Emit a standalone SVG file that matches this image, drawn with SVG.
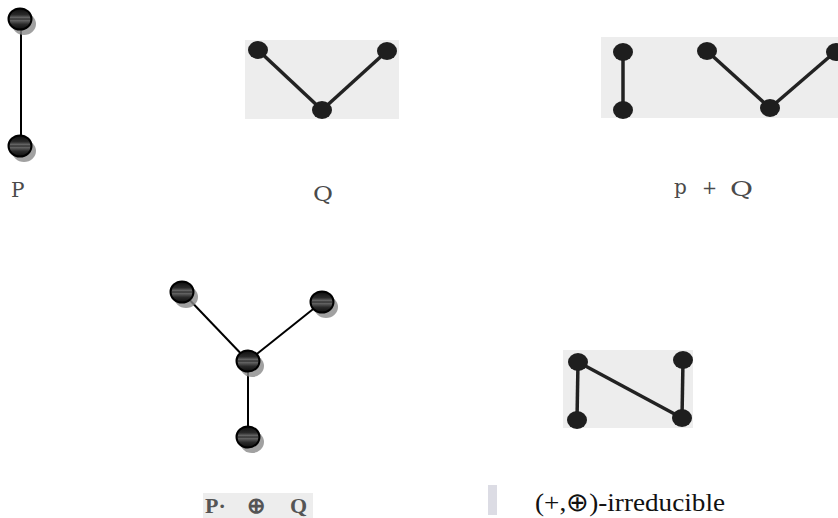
<svg xmlns="http://www.w3.org/2000/svg" width="838" height="518" viewBox="0 0 838 518">
<defs>
<linearGradient id="ball" x1="0" y1="0" x2="0" y2="1">
<stop offset="0" stop-color="#0d0d0d"/>
<stop offset="0.3" stop-color="#2a2a2a"/>
<stop offset="0.46" stop-color="#707070"/>
<stop offset="0.5" stop-color="#050505"/>
<stop offset="0.54" stop-color="#6a6a6a"/>
<stop offset="0.75" stop-color="#2a2a2a"/>
<stop offset="1" stop-color="#0d0d0d"/>
</linearGradient>
<g id="node">
<ellipse cx="4" cy="5" rx="12" ry="11" fill="#8a8a8a" opacity="0.8"/>
<ellipse cx="0" cy="0" rx="11.5" ry="10.5" fill="url(#ball)" stroke="#000" stroke-width="2"/>
</g>
</defs>
<style>
.edge{stroke:#000;stroke-width:2;fill:none}
.sedge{stroke:#222;stroke-width:3.5;fill:none}
.sdot{fill:#1e1e1e}
.scan{fill:#ededed}
.lbl{font-family:"DejaVu Serif",serif;fill:#4a4a4a}
.slbl{font-family:"Liberation Serif",serif;font-weight:bold;fill:#555}
</style>
<rect width="838" height="518" fill="#fff"/>

<!-- scanned backgrounds -->
<rect class="scan" x="245" y="40" width="154" height="79"/>
<rect class="scan" x="601" y="37" width="237" height="81"/>
<rect class="scan" x="563" y="350" width="130" height="78"/>
<rect class="scan" x="203" y="493" width="110" height="25"/>
<rect x="488" y="485" width="9" height="30" fill="#dcdce4"/>

<g id="connectors">
<line class="edge" x1="21" y1="20" x2="21" y2="146"/>
<line class="edge" x1="182" y1="292" x2="248" y2="361"/>
<line class="edge" x1="322" y1="302" x2="248" y2="361"/>
<line class="edge" x1="248" y1="361" x2="248" y2="437"/>
<line class="sedge" x1="258" y1="50" x2="322" y2="110"/>
<line class="sedge" x1="387" y1="51" x2="322" y2="110"/>
<line class="sedge" x1="623" y1="52" x2="623" y2="110"/>
<line class="sedge" x1="707" y1="51" x2="770" y2="108"/>
<line class="sedge" x1="835" y1="52" x2="770" y2="108"/>
<line class="sedge" x1="578" y1="362" x2="577" y2="420"/>
<line class="sedge" x1="578" y1="362" x2="682" y2="418"/>
<line class="sedge" x1="683" y1="360" x2="682" y2="418"/>
</g>

<g id="P">
<use href="#node" x="20" y="19"/>
<use href="#node" x="20" y="146"/>
<text class="lbl" x="11" y="197" font-size="20">P</text>
</g>

<g id="Q">
<ellipse class="sdot" cx="258" cy="50" rx="10" ry="9"/>
<ellipse class="sdot" cx="387" cy="51" rx="10" ry="9"/>
<ellipse class="sdot" cx="322" cy="110" rx="10" ry="9"/>
<text class="lbl" x="313" y="201" font-size="20" textLength="20" lengthAdjust="spacingAndGlyphs">Q</text>
</g>

<g id="PplusQ">
<ellipse class="sdot" cx="623" cy="52" rx="10" ry="9"/>
<ellipse class="sdot" cx="623" cy="110" rx="10" ry="9"/>
<ellipse class="sdot" cx="707" cy="51" rx="10" ry="9"/>
<ellipse class="sdot" cx="770" cy="108" rx="10" ry="9"/>
<ellipse class="sdot" cx="836" cy="52" rx="10" ry="9"/>
<text class="lbl" x="674" y="194" font-size="20">p</text>
<text class="lbl" x="702" y="194" font-size="18">+</text>
<text class="lbl" x="730" y="196" font-size="20" textLength="23" lengthAdjust="spacingAndGlyphs">Q</text>
</g>

<g id="PoplusQ">
<use href="#node" x="182" y="292"/>
<use href="#node" x="322" y="302"/>
<use href="#node" x="248" y="361"/>
<use href="#node" x="248" y="437"/>
<text class="slbl" x="205" y="513" font-size="22">P·</text>
<text class="slbl" x="247" y="513" font-size="22">⊕</text>
<text class="slbl" x="290" y="513" font-size="22">Q</text>
</g>

<g id="irreducible">
<ellipse class="sdot" cx="578" cy="362" rx="10" ry="9"/>
<ellipse class="sdot" cx="577" cy="420" rx="10" ry="9"/>
<ellipse class="sdot" cx="683" cy="360" rx="10" ry="9"/>
<ellipse class="sdot" cx="682" cy="418" rx="10" ry="9"/>
<text x="535" y="511" font-family="Liberation Serif,serif" font-size="26" fill="#111" textLength="190" lengthAdjust="spacingAndGlyphs">(+,⊕)-irreducible</text>
</g>
</svg>
